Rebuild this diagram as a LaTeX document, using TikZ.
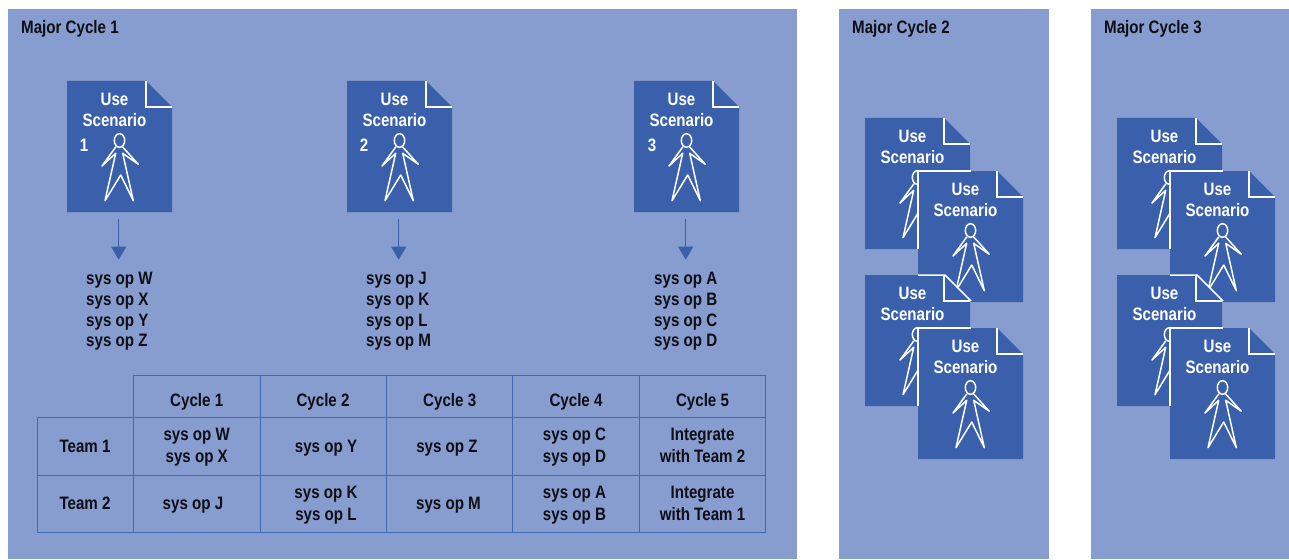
\documentclass[tikz,border=0pt]{standalone}
\usepackage{fontspec}
\setmainfont{Liberation Sans}[FakeStretch=0.84]
\usetikzlibrary{arrows.meta}
\definecolor{panelblue}{RGB}{135,157,207}
\definecolor{docblue}{RGB}{58,96,172}
\definecolor{gridblue}{RGB}{63,105,181}
\definecolor{inkblack}{RGB}{14,14,20}
\tikzset{
  panel/.style={fill=panelblue,draw=none},
  sheet/.style={fill=docblue,draw=none},
  foldline/.style={draw=white,line width=1.5pt},
  figureline/.style={draw=white,line width=1.5pt,line join=round,line cap=round},
  doctext/.style={text=white,inner sep=0pt,font=\fontsize{18}{21}\selectfont\bfseries},
  blacktext/.style={text=inkblack,inner sep=0pt,align=center,font=\fontsize{18}{22}\selectfont\bfseries},
  oplist/.style={text=inkblack,inner sep=0pt,align=left,anchor=west,font=\fontsize{18}{20.7}\selectfont\bfseries},
  title/.style={text=inkblack,inner sep=0pt,anchor=west,font=\fontsize{18}{21}\selectfont\bfseries},
  grid/.style={draw=gridblue,line width=1pt},
  flow/.style={draw=docblue,line width=1pt,-{Triangle[width=15pt,length=13pt]},shorten <=7pt,shorten >=12.5pt},
  docbox/.style={minimum width=105pt,minimum height=131pt,inner sep=0pt,draw=none,anchor=north west},
}
\newcommand{\docsheet}[3]{% name, x, y
  \begin{scope}[shift={(#2,#3)}]
    \fill[sheet] (0,0) -- (79,0) -- (105,26) -- (105,131) -- (0,131) -- cycle;
    \node[docbox] (#1) at (0,0) {};
    \draw[foldline] (79,0) -- (79,26) -- (105,26);
    \node[doctext] (#1use) at (47.5,18.5) {Use};
    \node[doctext] (#1scen) at (47.5,39.5) {Scenario};
    \draw[figureline] (52.5,59.5) ellipse [x radius=5.2,y radius=6.8];
    \draw[figureline] (48.7,66) -- (35,85) -- (48.7,72.3) -- (38,119.7) -- (53.7,94) -- (66.3,119.7) -- (55.7,72.3) -- (71.3,83.3) -- (55.7,66);
  \end{scope}
}
\newcommand{\overedge}[2]{% sheet lying over the one up-left of it
  \draw[foldline] (#1,#2+78) -- (#1,#2) -- (#1+53,#2);
}
\newcommand{\overfold}[2]{% fold of a sheet lying over the one up-right of it
  \draw[foldline] (#1,#2) -- (#1+27,#2) -- (#1+53,#2+26);
}
\begin{document}
\begin{tikzpicture}[x=1pt,y=-1pt]
\useasboundingbox (0,0) rectangle (1289,559);
\fill[panel] (8,9) rectangle (797,559);
\fill[panel] (839,9) rectangle (1049,559);
\fill[panel] (1091,9) rectangle (1289,559);
\node[title] (m1) at (21,29) {Major Cycle 1};
\node[title] (m2) at (852,29) {Major Cycle 2};
\node[title] (m3) at (1104,29) {Major Cycle 3};

\docsheet{da}{67}{81}
\node[doctext] (na) at (84,145) {1};
\docsheet{db}{347}{81}
\node[doctext] (nb) at (364,145) {2};
\docsheet{dc}{634}{81}
\node[doctext] (nc) at (652,145) {3};

\node[oplist] (oa) at (86,311.5) {sys op W\\sys op X\\sys op Y\\sys op Z};
\node[oplist] (ob) at (366,311.5) {sys op J\\sys op K\\sys op L\\sys op M};
\node[oplist] (oc) at (654,311.5) {sys op A\\sys op B\\sys op C\\sys op D};
\draw[flow] ([xshift=-1pt]da.south) -- ([xshift=-1pt]da.south |- oa.north);
\draw[flow] ([xshift=-1pt]db.south) -- ([xshift=-1pt]db.south |- ob.north);
\draw[flow] ([xshift=-1pt]dc.south) -- ([xshift=-1pt]dc.south |- oc.north);

% stack in Major Cycle 2
\docsheet{sa}{865}{118}
\docsheet{sb}{918}{171}\overedge{918}{171}
\docsheet{sc}{865}{275}\overfold{918}{275}
\docsheet{sd}{918}{328}\overedge{918}{328}
% stack in Major Cycle 3
\docsheet{ta}{1117}{118}
\docsheet{tb}{1170}{171}\overedge{1170}{171}
\docsheet{tc}{1117}{275}\overfold{1170}{275}
\docsheet{td}{1170}{328}\overedge{1170}{328}

% table
\draw[grid] (133.5,417.5) -- (133.5,375.5) -- (765.5,375.5) -- (765.5,532.5) -- (37.5,532.5) -- (37.5,417.5) -- (765.5,417.5);
\draw[grid] (37.5,475.5) -- (765.5,475.5);
\foreach \cx in {133.5,260.5,386.5,512.5,639.5}
  \draw[grid] (\cx,532.5) -- (\cx,417.5);
\foreach \cx in {260.5,386.5,512.5,639.5}
  \draw[grid] (\cx,417.5) -- (\cx,375.5);

\node[blacktext] (h1) at (196.7,401.5) {Cycle 1};
\node[blacktext] (h2) at (323,401.5) {Cycle 2};
\node[blacktext] (h3) at (449.7,401.5) {Cycle 3};
\node[blacktext] (h4) at (576,401.5) {Cycle 4};
\node[blacktext] (h5) at (702.5,401.5) {Cycle 5};
\node[blacktext] (t1) at (85,446.5) {Team 1};
\node[blacktext] (t2) at (85,503) {Team 2};
\node[blacktext] (c11) at (196.7,447) {sys op W\\sys op X};
\node[blacktext] (c12) at (326,448) {sys op Y};
\node[blacktext] (c13) at (447,448) {sys op Z};
\node[blacktext] (c14) at (574.5,447) {sys op C\\sys op D};
\node[blacktext] (c15) at (702.5,445.5) {Integrate\\with Team 2};
\node[blacktext] (c21) at (193,505) {sys op J};
\node[blacktext] (c22) at (326,505) {sys op K\\sys op L};
\node[blacktext] (c23) at (448.5,505) {sys op M};
\node[blacktext] (c24) at (574.5,505) {sys op A\\sys op B};
\node[blacktext] (c25) at (702.5,503.5) {Integrate\\with Team 1};
\end{tikzpicture}
\end{document}
